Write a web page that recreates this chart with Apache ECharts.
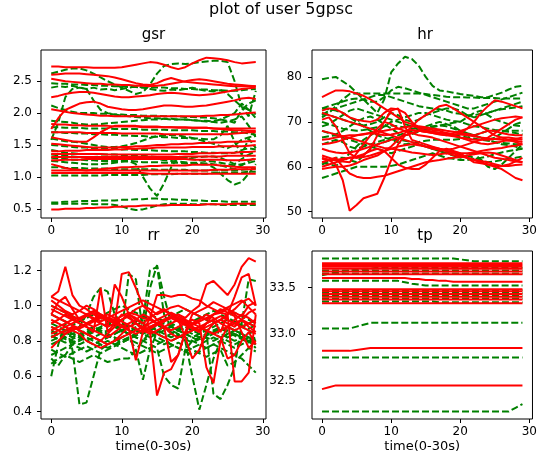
<!DOCTYPE html>
<html><head><meta charset="utf-8">
<script src="https://cdn.jsdelivr.net/npm/echarts@6/dist/echarts.min.js"></script>
<style>html,body{margin:0;padding:0;background:#fff}#c{width:540px;height:469px}</style>
</head><body><div id="c"></div>
<script>
const timeSteps = [0,1,2,3,4,5,6,7,8,9,10,11,12,13,14,15,16,17,18,19,20,21,22,23,24,25,26,27,28,29];
const xTicks = [0,10,20,30];
const gsrTicks = [0.5,1.0,1.5,2.0,2.5];
const hrTicks = [50,60,70,80];
const rrTicks = [0.4,0.6,0.8,1.0,1.2];
const tpTicks = [32.5,33.0,33.5];

const gsrGreen = [
[2.62,2.65,2.68,2.70,2.70,2.67,2.62,2.56,2.50,2.45, 2.40,2.35,2.30,2.33,2.45,2.62,2.74,2.77,2.78,2.77, 2.78,2.80,2.81,2.82,2.82,2.80,2.50,2.10,1.95,2.35],
[2.47,2.46,2.46,2.45,2.45,2.44,2.44,2.43,2.43,2.42, 2.42,2.41,2.41,2.40,2.40,2.40,2.40,2.39,2.39,2.38, 2.38,2.37,2.37,2.36,2.36,2.35,2.35,2.36,2.37,2.38],
[2.40,2.42,2.41,2.43,2.40,2.38,2.40,2.37,2.38,2.36, 2.38,2.40,2.42,2.40,2.38,2.36,2.35,2.37,2.36,2.38, 2.40,2.37,2.35,2.34,2.36,2.30,2.20,2.10,2.05,1.92],
[1.58,1.85,2.25,2.38,2.40,2.38,2.20,2.05,2.00,1.98, 1.96,1.95,1.94,1.93,1.92,1.92,1.91,1.90,1.90,1.90, 1.89,1.88,1.88,1.87,1.90,1.95,2.00,2.15,2.05,1.98],
[2.12,2.08,2.05,2.02,2.00,2.00,2.00,1.99,1.99,1.98, 1.98,1.97,1.97,1.96,1.96,1.96,1.95,1.95,1.95,1.94, 1.94,1.93,1.93,1.92,1.90,1.88,1.85,2.05,2.15,2.20],
[1.88,1.87,1.86,1.85,1.83,1.82,1.82,1.83,1.84,1.85, 1.86,1.87,1.88,1.89,1.90,1.90,1.91,1.91,1.90,1.90, 1.89,1.88,1.87,1.86,1.85,1.87,1.90,1.95,1.80,1.62],
[1.78,1.78,1.77,1.77,1.77,1.76,1.76,1.76,1.76,1.75, 1.75,1.75,1.75,1.74,1.74,1.74,1.74,1.73,1.73,1.73, 1.73,1.72,1.72,1.72,1.71,1.71,1.70,1.70,1.68,1.66],
[1.60,1.58,1.56,1.55,1.54,1.52,1.50,1.48,1.47,1.47, 1.48,1.50,1.53,1.57,1.61,1.64,1.65,1.66,1.65,1.63, 1.61,1.58,1.55,1.52,1.48,1.45,1.50,1.58,1.62,1.65],
[1.50,1.49,1.48,1.47,1.46,1.46,1.45,1.45,1.44,1.44, 1.43,1.43,1.42,1.42,1.42,1.41,1.41,1.40,1.40,1.40, 1.39,1.39,1.38,1.38,1.37,1.37,1.38,1.42,1.45,1.43],
[1.42,1.40,1.38,1.37,1.36,1.36,1.36,1.35,1.35,1.35, 1.34,1.34,1.34,1.33,1.32,1.31,1.30,1.30,1.30,1.30, 1.31,1.31,1.32,1.32,1.30,1.25,1.20,1.28,1.35,1.40],
[1.35,1.34,1.33,1.32,1.31,1.30,1.30,1.29,1.28,1.27, 1.26,1.25,1.20,1.00,0.82,0.70,0.90,1.15,1.32,1.30, 1.28,1.26,1.25,1.24,1.22,1.20,1.18,1.20,1.22,1.25],
[1.25,1.24,1.23,1.22,1.21,1.20,1.20,1.20,1.21,1.22, 1.24,1.26,1.28,1.30,1.30,1.28,1.26,1.25,1.24,1.23, 1.22,1.22,1.21,1.20,1.18,1.15,1.12,1.18,1.25,1.30],
[1.30,1.29,1.28,1.27,1.27,1.26,1.26,1.25,1.25,1.25, 1.24,1.24,1.24,1.23,1.23,1.23,1.22,1.22,1.22,1.21, 1.21,1.20,1.20,1.15,1.05,0.95,0.88,0.92,1.05,1.20],
[1.15,1.15,1.14,1.14,1.14,1.13,1.13,1.13,1.13,1.12, 1.12,1.12,1.12,1.12,1.12,1.11,1.11,1.11,1.11,1.11, 1.10,1.10,1.10,1.10,1.10,1.10,1.10,1.11,1.12,1.13],
[1.02,1.02,1.02,1.02,1.02,1.02,1.02,1.02,1.03,1.03, 1.03,1.03,1.03,1.03,1.04,1.04,1.04,1.04,1.05,1.05, 1.05,1.05,1.05,1.06,1.06,1.06,1.07,1.07,1.08,1.08],
[0.60,0.60,0.61,0.61,0.62,0.62,0.62,0.63,0.63,0.63, 0.64,0.64,0.65,0.65,0.66,0.66,0.65,0.65,0.64,0.64, 0.63,0.63,0.62,0.62,0.62,0.61,0.61,0.61,0.61,0.61],
[0.58,0.58,0.58,0.58,0.58,0.58,0.57,0.57,0.57,0.56, 0.54,0.50,0.48,0.49,0.52,0.55,0.57,0.58,0.58,0.58, 0.57,0.57,0.57,0.57,0.56,0.56,0.56,0.56,0.56,0.56],
[1.70,1.70,1.69,1.69,1.68,1.68,1.67,1.67,1.66,1.66, 1.65,1.65,1.64,1.64,1.63,1.63,1.62,1.62,1.61,1.61, 1.60,1.60,1.59,1.59,1.65,1.80,1.55,1.35,1.60,1.45]
];
const gsrRed = [
[2.73,2.73,2.72,2.72,2.72,2.72,2.71,2.71,2.71,2.71, 2.72,2.74,2.76,2.78,2.80,2.79,2.76,2.72,2.69,2.72, 2.78,2.83,2.87,2.86,2.85,2.83,2.80,2.78,2.79,2.80],
[2.60,2.61,2.62,2.62,2.62,2.61,2.60,2.59,2.58,2.56, 2.53,2.50,2.47,2.45,2.44,2.47,2.52,2.55,2.52,2.49, 2.48,2.47,2.46,2.45,2.44,2.43,2.42,2.42,2.42,2.42],
[2.54,2.52,2.50,2.49,2.48,2.47,2.46,2.46,2.45,2.45, 2.44,2.44,2.43,2.43,2.42,2.43,2.44,2.46,2.48,2.50, 2.52,2.53,2.52,2.50,2.48,2.46,2.45,2.44,2.43,2.42],
[2.25,2.27,2.30,2.32,2.33,2.33,2.32,2.30,2.28,2.26, 2.25,2.25,2.26,2.27,2.28,2.30,2.31,2.32,2.31,2.30, 2.29,2.28,2.29,2.30,2.32,2.34,2.36,2.38,2.39,2.40],
[2.06,2.04,2.02,2.00,1.99,1.98,1.97,1.96,1.96,1.95, 1.95,1.95,1.95,1.95,1.95,1.95,1.95,1.95,1.95,1.95, 1.95,1.95,1.96,1.96,1.97,1.97,1.98,1.99,2.00,2.01],
[1.75,1.92,2.05,2.10,2.15,2.17,2.18,2.15,2.10,2.08, 2.06,2.05,2.05,2.06,2.08,2.10,2.12,2.12,2.11,2.10, 2.10,2.11,2.12,2.14,2.16,2.18,2.20,2.23,2.24,2.22],
[1.83,1.82,1.82,1.81,1.81,1.80,1.80,1.80,1.80,1.79, 1.79,1.79,1.79,1.78,1.78,1.78,1.78,1.78,1.77,1.77, 1.77,1.77,1.77,1.76,1.76,1.76,1.76,1.76,1.76,1.76],
[1.62,1.60,1.58,1.56,1.55,1.55,1.62,1.70,1.76,1.80, 1.80,1.80,1.80,1.79,1.79,1.79,1.78,1.78,1.78,1.78, 1.77,1.77,1.77,1.76,1.75,1.74,1.73,1.73,1.72,1.72],
[1.70,1.70,1.70,1.70,1.70,1.69,1.69,1.69,1.69,1.69, 1.68,1.68,1.68,1.68,1.68,1.68,1.67,1.67,1.67,1.67, 1.67,1.67,1.67,1.67,1.67,1.67,1.68,1.69,1.70,1.70],
[1.52,1.51,1.50,1.49,1.48,1.47,1.46,1.46,1.46,1.46, 1.47,1.47,1.48,1.48,1.49,1.50,1.50,1.51,1.51,1.52, 1.52,1.53,1.53,1.54,1.54,1.55,1.55,1.55,1.56,1.56],
[1.36,1.36,1.36,1.36,1.36,1.36,1.36,1.36,1.35,1.35, 1.35,1.35,1.35,1.35,1.35,1.35,1.35,1.35,1.36,1.36, 1.36,1.37,1.37,1.37,1.38,1.38,1.38,1.39,1.39,1.40],
[1.31,1.31,1.31,1.31,1.31,1.31,1.31,1.31,1.31,1.31, 1.31,1.31,1.31,1.31,1.31,1.31,1.31,1.31,1.31,1.32, 1.32,1.32,1.32,1.32,1.32,1.33,1.33,1.33,1.33,1.33],
[1.26,1.26,1.27,1.27,1.27,1.28,1.28,1.28,1.28,1.28, 1.28,1.28,1.28,1.28,1.28,1.28,1.28,1.28,1.28,1.28, 1.27,1.27,1.27,1.27,1.27,1.26,1.26,1.26,1.27,1.28],
[1.20,1.17,1.14,1.12,1.11,1.10,1.11,1.12,1.13,1.14, 1.15,1.15,1.16,1.16,1.17,1.17,1.18,1.18,1.18,1.18, 1.19,1.19,1.19,1.19,1.18,1.17,1.16,1.15,1.15,1.15],
[1.10,1.10,1.10,1.10,1.10,1.10,1.10,1.10,1.10,1.10, 1.10,1.10,1.10,1.10,1.10,1.10,1.10,1.10,1.10,1.10, 1.10,1.10,1.10,1.11,1.11,1.11,1.12,1.12,1.12,1.12],
[1.06,1.06,1.06,1.06,1.06,1.06,1.06,1.06,1.06,1.06, 1.06,1.06,1.06,1.06,1.05,1.05,1.05,1.05,1.05,1.05, 1.05,1.05,1.05,1.05,1.05,1.05,1.05,1.05,1.05,1.05],
[0.49,0.49,0.50,0.50,0.50,0.51,0.51,0.52,0.52,0.53, 0.53,0.54,0.54,0.55,0.55,0.55,0.55,0.56,0.56,0.56, 0.56,0.56,0.57,0.57,0.57,0.57,0.58,0.58,0.58,0.58],
[1.40,1.40,1.41,1.41,1.41,1.42,1.42,1.42,1.42,1.43, 1.43,1.44,1.44,1.45,1.45,1.46,1.46,1.46,1.46,1.46, 1.47,1.47,1.47,1.47,1.48,1.48,1.48,1.48,1.49,1.50]
];

const hrGreen = [
[79.5,79.8,80.0,79.0,78.0,76.5,75.0,73.5,72.0,75.0, 81.0,83.0,84.5,84.0,82.5,80.0,78.0,77.0,76.8,76.5, 76.2,76.0,75.8,75.5,75.5,76.0,76.5,77.2,77.8,78.0],
[71.0,72.0,73.5,75.0,76.2,76.3,76.3,76.3,76.3,76.3, 76.3,76.3,76.3,76.3,76.3,76.2,76.0,75.8,75.6,75.5, 75.5,75.4,75.4,75.3,75.3,75.3,75.2,75.2,75.2,75.2],
[73.0,73.5,74.0,74.5,75.0,75.2,75.0,74.5,74.5,75.5, 77.0,77.8,77.5,77.0,76.5,76.0,75.5,75.0,74.5,74.0, 73.5,73.0,73.0,73.5,74.0,74.5,75.0,75.5,76.0,76.5],
[72.0,71.5,71.0,70.5,70.0,69.5,69.2,69.5,70.0,71.0, 72.0,71.5,70.5,70.0,70.5,71.5,72.0,72.5,73.0,73.0, 72.5,71.5,71.0,71.5,72.0,72.5,72.8,73.0,73.2,73.5],
[70.0,69.5,69.0,68.5,68.2,68.0,68.2,68.5,68.8,69.0, 69.2,69.0,68.8,68.5,68.5,68.8,69.0,69.2,69.5,69.8, 70.0,71.0,72.0,72.5,71.5,70.5,70.0,69.5,69.2,69.0],
[68.0,67.5,67.2,68.0,69.0,70.0,70.8,71.2,70.5,69.5, 68.5,67.5,67.0,67.3,67.8,68.3,68.8,69.2,69.0,68.5, 68.0,67.5,67.0,66.5,66.0,66.5,67.5,68.5,69.5,70.0],
[61.0,60.5,60.2,61.5,63.0,64.5,66.0,67.0,68.0,69.0, 70.0,70.5,71.0,71.5,72.0,72.0,71.5,71.0,70.5,70.2, 70.0,69.5,69.0,68.8,68.5,68.2,68.0,67.8,67.5,67.2],
[57.5,58.0,58.5,59.0,59.5,60.0,60.0,60.0,60.0,60.0, 60.2,60.5,61.0,61.5,62.0,62.5,63.0,62.5,62.0,61.8, 61.5,61.5,61.8,62.0,62.3,62.8,63.2,63.5,63.8,64.0],
[60.5,61.3,62.0,62.0,61.5,61.0,62.5,64.0,65.0,65.5, 66.0,66.0,65.8,65.5,65.0,64.5,64.0,63.5,63.0,62.5, 62.0,62.5,63.0,61.5,60.0,59.5,60.5,62.0,63.5,65.0],
[65.0,65.5,66.0,65.5,64.5,64.0,64.5,65.0,65.5,66.0, 66.5,67.0,67.5,68.0,68.5,69.0,69.5,70.0,69.5,69.0, 68.0,67.5,67.0,66.5,66.0,65.5,65.0,64.8,64.5,64.0],
[73.0,72.8,72.5,72.0,71.0,70.0,69.0,68.0,67.0,66.5, 66.0,65.5,65.0,65.2,65.5,65.8,66.0,66.0,66.0,66.0, 66.2,66.5,67.0,67.5,68.0,68.0,68.0,68.0,68.0,68.0],
[66.5,66.8,67.0,66.5,66.0,65.5,65.0,64.5,64.0,63.5, 63.0,63.5,64.0,64.5,65.0,64.5,64.0,63.5,63.2,63.0, 62.8,62.5,62.0,61.5,61.0,61.2,61.5,61.8,62.0,62.3],
[69.0,69.5,70.5,71.5,72.5,73.0,72.5,72.0,71.5,71.0, 70.5,70.0,69.5,69.0,68.5,68.0,67.8,67.5,67.3,67.0, 66.8,66.5,66.3,66.0,65.8,65.5,65.3,65.2,65.0,65.0],
[71.5,72.5,73.0,73.5,74.0,74.5,75.0,75.5,76.0,76.0, 75.5,75.0,74.5,74.0,73.5,73.2,73.0,72.8,72.5,72.0, 71.8,71.5,71.5,71.8,72.0,72.5,73.0,73.5,74.0,74.5]
];
const hrRed = [
[75.5,76.3,77.0,77.0,76.8,76.3,75.8,75.0,74.0,73.0, 72.0,71.0,70.0,69.5,69.0,68.8,68.5,68.3,68.0,67.8, 67.5,67.3,67.0,67.5,68.0,68.0,67.5,67.2,67.0,67.0],
[72.5,73.0,72.8,72.0,71.0,70.5,70.2,70.0,70.5,72.0, 73.0,72.8,72.0,70.0,68.5,68.0,67.8,67.5,67.3,67.0, 67.5,68.5,70.0,72.0,73.5,74.8,74.5,74.0,73.5,73.0],
[70.5,71.0,69.0,66.0,63.0,62.0,62.5,64.0,67.0,70.0, 72.5,73.0,69.0,66.0,65.5,65.0,64.5,64.0,63.5,63.0, 62.5,62.0,61.5,61.0,60.5,60.0,59.5,58.5,57.5,57.0],
[62.0,61.5,60.5,57.0,50.2,51.5,53.0,53.5,54.0,57.5, 61.5,65.0,67.0,67.5,68.0,67.8,67.5,67.3,67.0,66.8, 66.5,66.3,66.0,66.0,66.0,66.2,66.5,66.5,66.3,66.0],
[61.0,61.5,62.0,60.0,58.5,57.8,57.5,57.5,57.8,58.0, 58.5,59.0,59.5,60.0,60.5,61.0,61.3,61.5,61.8,62.0, 62.2,62.5,62.8,63.0,63.2,63.0,62.5,62.0,61.5,61.0],
[59.5,59.8,60.0,60.0,60.3,60.8,61.5,62.0,62.5,63.5, 64.5,66.0,67.5,69.0,70.5,71.5,72.5,73.5,73.8,73.0, 72.0,71.0,70.0,69.0,68.0,67.0,66.5,66.0,65.5,65.0],
[66.0,66.2,66.5,66.8,67.0,67.0,67.2,67.5,67.8,68.0, 68.3,68.5,68.8,69.0,68.8,68.5,68.2,68.0,67.5,67.0, 66.5,66.0,65.5,65.2,65.0,65.3,65.6,66.0,66.2,66.5],
[64.0,63.5,63.2,63.0,63.2,63.5,64.0,64.5,65.0,65.5, 66.0,66.5,67.0,67.5,68.0,67.8,67.5,67.2,67.0,67.5, 68.0,68.5,69.0,69.5,70.0,70.5,70.8,71.0,71.2,71.0],
[60.0,60.5,61.0,61.5,62.0,62.3,62.8,63.5,64.0,63.5, 62.0,60.5,59.8,59.5,59.5,60.5,62.0,63.5,64.0,63.5, 63.0,62.0,61.0,60.8,60.5,60.3,60.2,60.2,60.4,60.5],
[62.5,62.0,61.5,61.2,61.0,63.0,65.0,67.0,68.5,70.0, 69.5,68.5,68.0,67.5,67.0,66.8,66.5,66.0,65.5,65.0, 64.5,64.0,63.5,63.0,62.5,62.0,61.8,61.5,61.2,61.0],
[68.0,67.6,67.2,66.8,66.4,66.0,65.5,65.0,64.6,64.2, 64.0,63.8,63.5,63.2,63.0,62.8,62.6,62.8,63.0,62.6, 62.3,62.0,61.6,61.3,61.0,60.6,60.2,60.5,61.2,62.0],
[65.0,65.2,65.5,66.0,66.5,67.0,67.3,67.5,67.3,67.0, 67.2,67.5,68.0,68.2,68.0,67.8,67.7,67.5,67.5,67.3, 67.2,67.0,66.8,66.5,66.3,66.2,66.0,65.8,65.8,65.5],
[72.0,71.5,71.0,70.5,70.0,69.5,69.0,68.5,68.0,67.5, 67.0,66.5,66.0,65.5,65.0,64.5,64.0,63.8,63.5,63.3, 63.0,63.0,63.2,63.5,63.8,64.0,64.2,64.5,64.7,65.0],
[61.8,61.5,61.5,61.8,62.0,62.0,62.2,62.5,63.0,63.5, 64.0,64.5,64.8,65.0,64.8,64.5,64.3,64.0,63.8,64.0, 64.5,65.0,65.5,66.0,66.5,67.5,68.5,69.5,70.5,71.0]
];

const rrGreen = [
[0.60,0.78,0.90,0.75,0.44,0.45,0.60,0.75,0.78,0.80, 0.82,0.84,0.86,0.84,0.82,0.80,0.78,0.80,0.82,0.84, 0.86,0.88,0.86,0.84,0.82,0.80,0.78,0.80,0.82,0.80],
[0.80,0.82,0.84,0.86,0.88,0.95,1.05,1.10,1.08,0.95, 0.90,0.88,0.86,0.84,0.86,0.88,0.90,0.88,0.86,0.84, 0.82,0.84,0.86,0.88,0.90,0.92,0.90,0.88,0.86,0.84],
[0.85,0.83,0.81,0.79,0.81,0.83,0.85,0.87,0.89,0.91, 0.85,1.18,1.15,0.85,1.10,1.23,1.05,0.90,0.88,0.86, 0.84,0.82,0.84,0.86,0.88,0.86,0.84,0.82,0.80,0.82],
[0.78,0.80,0.82,0.80,0.78,0.80,0.82,0.84,0.86,0.88, 0.86,0.84,0.88,0.92,1.20,1.22,0.95,0.88,0.86,0.84, 0.82,0.80,0.82,0.84,0.86,0.88,0.86,0.84,0.82,0.80],
[0.72,0.74,0.76,0.78,0.80,0.82,0.80,0.78,0.76,0.78, 0.80,0.82,0.75,0.58,0.75,0.85,0.88,0.86,0.84,0.82, 0.80,0.78,0.76,0.78,0.80,0.82,0.84,0.82,0.80,0.78],
[0.88,0.86,0.84,0.82,0.84,0.86,0.88,0.86,0.84,0.82, 0.80,0.82,0.84,0.86,0.88,0.86,0.84,0.82,0.84,0.80, 0.60,0.41,0.55,0.70,0.80,0.84,0.86,0.84,0.82,0.80],
[0.82,0.84,0.86,0.84,0.82,0.80,0.78,0.80,0.82,0.84, 0.86,0.84,0.82,0.80,0.82,0.84,0.86,0.88,0.86,0.84, 0.86,0.88,0.85,0.50,0.47,0.55,0.65,0.90,1.15,1.14],
[0.67,0.70,0.72,0.70,0.68,0.70,0.72,0.70,0.68,0.69, 0.70,0.70,0.75,0.80,0.85,0.82,0.80,0.78,0.76,0.74, 0.72,0.74,0.76,0.78,0.76,0.74,0.72,0.70,0.66,0.62],
[0.90,0.88,0.86,0.84,0.82,0.84,0.86,0.88,0.90,0.88, 0.86,0.84,0.82,0.80,0.78,0.76,0.60,0.55,0.53,0.75, 0.80,0.82,0.84,0.86,0.84,0.82,0.80,0.82,0.84,0.86],
[1.00,0.98,0.96,0.94,0.92,0.90,0.92,0.94,0.96,0.98, 1.00,0.98,0.96,0.94,0.92,0.90,0.92,0.94,0.96,0.98, 0.96,0.94,0.92,0.90,0.92,0.94,0.96,0.94,0.92,0.90],
[0.75,0.73,0.71,0.73,0.75,0.77,0.75,0.73,0.75,0.77, 0.79,0.81,0.79,0.77,0.75,0.73,0.75,0.77,0.79,0.77, 0.75,0.73,0.71,0.73,0.75,0.66,0.68,0.72,0.76,0.74],
[0.83,0.81,0.79,0.81,0.83,0.85,0.87,0.85,0.83,0.81, 0.79,0.81,0.83,0.85,0.87,0.89,0.87,0.85,0.83,0.81, 0.79,0.81,0.83,0.85,0.87,0.85,0.83,0.81,0.79,0.81],
[0.95,0.93,0.91,0.89,0.91,0.93,0.95,0.93,0.91,0.89, 0.87,0.89,0.91,0.93,0.95,0.93,0.91,0.89,0.87,0.89, 0.91,0.93,0.95,0.97,0.95,0.93,0.91,0.89,0.87,0.89],
[0.70,0.66,0.72,0.78,0.76,0.74,0.76,0.78,0.80,0.78, 0.76,0.74,0.72,0.74,0.76,0.78,0.80,0.78,0.76,0.74, 0.76,0.78,0.80,0.82,0.80,0.78,0.76,0.78,0.80,0.76],
[0.86,0.84,0.82,0.84,0.86,0.84,0.82,0.80,0.82,0.84, 0.86,0.88,0.90,0.88,0.86,0.84,0.82,0.84,0.86,0.88, 0.86,0.84,0.82,0.80,0.82,0.84,0.86,0.88,0.90,0.88]
];
const rrRed = [
[1.05,1.08,1.22,1.06,1.00,0.98,0.95,0.93,0.92,0.90, 0.92,0.95,0.93,0.90,0.88,0.90,0.92,0.93,0.95,0.93, 0.97,1.00,1.12,1.14,1.10,1.06,1.12,1.22,1.27,1.25],
[0.95,1.02,1.05,0.98,0.92,0.90,0.88,0.90,0.88,1.12, 1.05,0.95,0.92,0.90,0.93,0.96,0.98,0.95,0.92,0.90, 0.88,0.86,0.90,0.92,0.85,0.95,1.05,1.16,1.18,1.00],
[0.90,0.92,0.95,0.93,0.90,0.88,0.85,1.10,0.85,0.90, 1.18,1.19,1.10,1.00,0.98,0.95,0.97,0.99,1.00,0.98, 0.96,0.94,0.92,0.95,0.96,0.98,0.95,0.92,0.90,0.88],
[0.98,0.96,0.94,0.92,0.93,0.95,0.92,0.90,0.88,0.90, 0.95,0.93,0.90,0.87,0.85,0.49,0.62,0.64,0.72,0.85, 0.90,0.92,0.95,0.93,0.90,0.88,0.86,0.88,0.90,0.92],
[0.86,0.88,0.90,0.92,0.90,0.88,0.86,0.84,0.82,0.85, 0.88,0.90,0.92,0.95,0.93,0.90,0.88,0.86,0.88,0.90, 0.92,0.90,0.65,0.56,0.80,0.88,0.92,0.95,0.93,0.90],
[0.88,0.86,0.84,0.86,0.88,0.90,0.92,0.94,0.92,0.90, 0.88,0.86,0.84,0.86,0.88,0.90,0.92,0.94,0.92,0.90, 0.88,0.86,0.88,0.90,0.92,0.95,0.57,0.57,0.62,0.95],
[1.00,0.98,0.96,0.94,0.92,0.95,0.97,0.95,0.93,0.91, 0.89,0.87,0.69,0.85,0.93,1.06,1.06,1.05,1.06,1.06, 1.04,1.03,1.00,0.98,0.96,0.95,0.98,1.02,1.04,1.00],
[0.76,0.80,0.84,0.88,0.86,0.84,0.82,0.80,0.78,0.80, 0.84,0.88,0.90,0.88,0.86,0.84,0.82,0.80,0.82,0.84, 0.86,0.88,0.86,0.84,0.82,0.70,0.72,0.80,0.85,0.78],
[1.03,1.00,0.97,0.95,0.97,1.00,0.98,0.95,0.93,0.92, 0.94,0.96,0.95,0.93,0.92,0.90,0.88,0.68,0.72,0.85, 0.95,0.97,0.99,1.02,1.00,0.98,0.96,0.94,1.00,1.02],
[0.92,0.90,0.88,0.86,0.84,0.80,0.78,0.76,0.78,0.80, 0.82,0.84,0.86,0.88,0.90,0.92,0.94,0.96,0.94,0.92, 0.90,0.88,0.86,0.84,0.86,0.88,0.90,0.92,0.88,0.85],
[0.84,0.86,0.88,0.90,0.92,0.94,0.96,0.94,0.92,0.90, 0.92,0.94,0.90,0.86,0.84,0.86,0.88,0.90,0.92,0.82, 0.70,0.75,0.85,0.90,0.92,0.90,0.88,0.92,0.96,0.98],
[0.95,0.93,0.91,0.89,0.87,0.89,0.91,0.93,0.95,0.93, 0.91,0.89,0.87,0.85,0.87,0.89,0.91,0.93,0.91,0.89, 0.87,0.85,0.90,0.95,0.98,0.96,0.94,0.85,0.76,0.80],
[0.82,0.84,0.86,0.88,0.86,0.84,0.82,0.80,0.84,0.88, 0.92,0.95,0.98,1.00,0.96,0.92,0.88,0.84,0.82,0.84, 0.86,0.88,0.90,0.92,0.94,0.92,0.90,0.88,0.86,0.84],
[1.05,1.03,1.01,0.99,0.97,0.95,0.93,0.91,0.93,0.95, 0.97,0.99,1.01,1.03,1.01,0.99,0.97,0.95,0.93,0.91, 0.89,0.91,0.93,0.95,0.97,0.99,1.01,1.03,0.99,0.95]
];

const tpGreen = [
[33.81,33.81,33.81,33.81,33.81,33.81,33.81,33.81,33.81,33.81, 33.81,33.81,33.81,33.81,33.81,33.81,33.81,33.81,33.81,33.81, 33.80,33.79,33.78,33.78,33.78,33.78,33.78,33.78,33.78,33.78],
[33.63,33.645,33.66,33.67,33.68,33.69,33.70,33.70,33.71,33.71, 33.71,33.71,33.71,33.71,33.71,33.71,33.71,33.71,33.71,33.71, 33.71,33.71,33.71,33.71,33.71,33.71,33.71,33.71,33.71,33.71],
[33.57,33.57,33.57,33.57,33.57,33.57,33.57,33.57,33.57,33.57, 33.57,33.57,33.555,33.54,33.53,33.52,33.52,33.52,33.52,33.52, 33.52,33.52,33.52,33.52,33.52,33.52,33.52,33.52,33.52,33.52],
[33.68,33.68,33.68,33.68,33.68,33.68,33.68,33.68,33.68,33.68, 33.68,33.68,33.68,33.68,33.68,33.68,33.68,33.68,33.68,33.68, 33.68,33.68,33.68,33.68,33.68,33.68,33.68,33.68,33.68,33.68],
[33.65,33.65,33.65,33.65,33.65,33.65,33.65,33.65,33.65,33.65, 33.65,33.65,33.65,33.65,33.65,33.65,33.65,33.65,33.65,33.65, 33.65,33.65,33.65,33.65,33.65,33.65,33.65,33.65,33.65,33.65],
[33.47,33.47,33.47,33.47,33.47,33.47,33.47,33.47,33.47,33.47, 33.47,33.47,33.47,33.47,33.47,33.47,33.47,33.47,33.47,33.47, 33.47,33.47,33.47,33.47,33.47,33.47,33.47,33.47,33.47,33.47],
[33.44,33.44,33.44,33.44,33.44,33.44,33.44,33.44,33.44,33.44, 33.44,33.44,33.44,33.44,33.44,33.44,33.44,33.44,33.44,33.44, 33.44,33.44,33.44,33.44,33.44,33.44,33.44,33.44,33.44,33.44],
[33.41,33.41,33.41,33.41,33.41,33.41,33.41,33.41,33.41,33.41, 33.41,33.41,33.41,33.41,33.41,33.41,33.41,33.41,33.41,33.41, 33.41,33.41,33.41,33.41,33.41,33.41,33.41,33.41,33.41,33.41],
[33.38,33.38,33.38,33.38,33.38,33.38,33.38,33.38,33.38,33.38, 33.38,33.38,33.38,33.38,33.38,33.38,33.38,33.38,33.38,33.38, 33.38,33.38,33.38,33.38,33.38,33.38,33.38,33.38,33.38,33.38],
[33.35,33.35,33.35,33.35,33.35,33.35,33.35,33.35,33.35,33.35, 33.35,33.35,33.35,33.35,33.35,33.35,33.35,33.34,33.34,33.34, 33.34,33.34,33.34,33.34,33.34,33.34,33.34,33.34,33.34,33.34],
[33.06,33.06,33.06,33.06,33.06,33.08,33.10,33.12,33.12,33.12, 33.12,33.12,33.12,33.12,33.12,33.12,33.12,33.12,33.12,33.12, 33.12,33.12,33.12,33.12,33.12,33.12,33.12,33.12,33.12,33.12],
[32.75,32.75,32.75,32.75,32.75,32.75,32.75,32.75,32.75,32.75, 32.75,32.75,32.75,32.75,32.75,32.75,32.75,32.75,32.75,32.75, 32.75,32.75,32.75,32.75,32.75,32.75,32.75,32.75,32.75,32.75],
[32.17,32.17,32.17,32.17,32.17,32.17,32.17,32.17,32.17,32.17, 32.17,32.17,32.17,32.17,32.17,32.17,32.17,32.17,32.17,32.17, 32.17,32.17,32.17,32.17,32.17,32.17,32.17,32.17,32.21,32.25]
];
const tpRed = [
[33.76,33.76,33.76,33.76,33.76,33.76,33.76,33.76,33.76,33.76, 33.76,33.76,33.76,33.76,33.76,33.76,33.76,33.76,33.76,33.76, 33.76,33.76,33.76,33.76,33.76,33.76,33.76,33.76,33.76,33.76],
[33.74,33.74,33.74,33.74,33.74,33.74,33.74,33.74,33.74,33.74, 33.74,33.74,33.74,33.74,33.74,33.74,33.74,33.74,33.74,33.74, 33.74,33.74,33.74,33.74,33.74,33.74,33.74,33.74,33.74,33.74],
[33.72,33.72,33.72,33.72,33.72,33.72,33.72,33.72,33.72,33.72, 33.72,33.72,33.72,33.72,33.72,33.72,33.72,33.72,33.72,33.72, 33.72,33.72,33.72,33.72,33.72,33.72,33.72,33.72,33.72,33.72],
[33.70,33.70,33.70,33.70,33.70,33.70,33.70,33.70,33.70,33.70, 33.70,33.70,33.70,33.70,33.70,33.70,33.70,33.70,33.70,33.70, 33.70,33.70,33.70,33.70,33.70,33.70,33.70,33.70,33.70,33.70],
[33.67,33.67,33.67,33.67,33.67,33.67,33.67,33.67,33.67,33.67, 33.67,33.67,33.67,33.67,33.67,33.67,33.67,33.67,33.67,33.67, 33.67,33.67,33.67,33.67,33.67,33.67,33.67,33.67,33.67,33.67],
[33.64,33.64,33.64,33.64,33.64,33.64,33.64,33.64,33.64,33.64, 33.64,33.64,33.64,33.64,33.64,33.64,33.64,33.64,33.64,33.64, 33.64,33.64,33.64,33.64,33.64,33.64,33.64,33.64,33.64,33.64],
[33.60,33.60,33.60,33.60,33.60,33.60,33.60,33.60,33.60,33.60, 33.60,33.60,33.60,33.59,33.59,33.58,33.58,33.57,33.57,33.56, 33.56,33.56,33.56,33.56,33.56,33.56,33.56,33.56,33.56,33.56],
[33.48,33.48,33.48,33.48,33.48,33.48,33.48,33.48,33.48,33.48, 33.48,33.48,33.48,33.48,33.48,33.48,33.48,33.48,33.48,33.48, 33.48,33.48,33.48,33.48,33.48,33.48,33.48,33.48,33.48,33.48],
[33.46,33.46,33.46,33.46,33.46,33.46,33.46,33.46,33.46,33.46, 33.46,33.46,33.46,33.46,33.46,33.46,33.46,33.46,33.46,33.46, 33.46,33.46,33.46,33.46,33.46,33.46,33.46,33.46,33.46,33.46],
[33.43,33.43,33.43,33.43,33.43,33.43,33.43,33.43,33.43,33.43, 33.43,33.43,33.43,33.43,33.43,33.43,33.43,33.43,33.43,33.43, 33.43,33.43,33.43,33.43,33.43,33.43,33.43,33.43,33.43,33.43],
[33.40,33.40,33.40,33.40,33.40,33.40,33.40,33.40,33.40,33.40, 33.40,33.40,33.40,33.40,33.40,33.40,33.40,33.40,33.40,33.40, 33.40,33.40,33.40,33.40,33.40,33.40,33.40,33.40,33.40,33.40],
[33.37,33.37,33.37,33.37,33.37,33.37,33.37,33.37,33.37,33.37, 33.37,33.37,33.37,33.37,33.37,33.37,33.37,33.37,33.37,33.37, 33.37,33.37,33.37,33.37,33.37,33.37,33.37,33.37,33.37,33.37],
[33.33,33.33,33.33,33.33,33.33,33.33,33.33,33.33,33.33,33.33, 33.33,33.33,33.33,33.33,33.33,33.33,33.33,33.33,33.33,33.33, 33.33,33.33,33.33,33.33,33.33,33.33,33.33,33.33,33.33,33.33],
[32.82,32.82,32.82,32.82,32.82,32.83,32.84,32.85,32.85,32.85, 32.85,32.85,32.85,32.85,32.85,32.85,32.85,32.85,32.85,32.85, 32.85,32.85,32.85,32.85,32.85,32.85,32.85,32.85,32.85,32.85],
[32.41,32.43,32.45,32.45,32.45,32.45,32.45,32.45,32.45,32.45, 32.45,32.45,32.45,32.45,32.45,32.45,32.45,32.45,32.45,32.45, 32.45,32.45,32.45,32.45,32.45,32.45,32.45,32.45,32.45,32.45]
];

const FONT = 'DejaVu Sans';
const panels = [
  {title:'gsr', red:gsrRed, green:gsrGreen, ticks:gsrTicks, ymin:0.355, ymax:2.99, dec:1, left:41, top:50, lm:9, xname:''},
  {title:'hr', red:hrRed, green:hrGreen, ticks:hrTicks, ymin:48.6, ymax:86.0, dec:0, left:312, top:50, lm:10, xname:''},
  {title:'rr', red:rrRed, green:rrGreen, ticks:rrTicks, ymin:0.357, ymax:1.31, dec:1, left:41, top:251, lm:9, xname:'time(0-30s)'},
  {title:'tp', red:tpRed, green:tpGreen, ticks:tpTicks, ymin:32.09, ymax:33.89, dec:1, left:312, top:251, lm:16, xname:'time(0-30s)'}
];
const W = 225, H = 168;

const grids = [], xAxes = [], yAxes = [], series = [];
const titles = [{text:'plot of user 5gpsc', left:281, top:2, padding:0, textAlign:'center',
  textStyle:{fontFamily:FONT, fontSize:16, fontWeight:'normal', color:'#000'}}];
panels.forEach((p, i) => {
  grids.push({left:p.left, top:p.top, width:(i%2===1? W+1 : W), height:H, show:true, borderColor:'#000', borderWidth:1, backgroundColor:'transparent'});
  titles.push({text:p.title, left:p.left + (i%2===1? (W+1)/2 : W/2), top:p.top - 22, padding:0, textAlign:'center',
    textStyle:{fontFamily:FONT, fontSize:15, fontWeight:'normal', color:'#000'}});
  xAxes.push({type:'value', gridIndex:i, min:-1.45, max:30.45,
    axisLine:{show:false, onZero:false}, splitLine:{show:false},
    axisTick:{show:true, length:4, lineStyle:{color:'#000', width:1}, customValues:xTicks},
    axisLabel:{customValues:xTicks, color:'#000', fontSize:12, fontFamily:FONT, margin:7},
    name:p.xname, nameLocation:'middle', nameGap:21,
    nameTextStyle:{fontFamily:FONT, fontSize:13, color:'#000'}});
  yAxes.push({type:'value', gridIndex:i, min:p.ymin, max:p.ymax,
    axisLine:{show:false, onZero:false}, splitLine:{show:false},
    axisTick:{show:true, length:4, lineStyle:{color:'#000', width:1}, customValues:p.ticks},
    axisLabel:{customValues:p.ticks, color:'#000', fontSize:12, fontFamily:FONT, margin:p.lm,
      formatter:(v)=>Number(v).toFixed(p.dec)}});
  const mk = (arr, color, dashed) => arr.forEach(vals => {
    series.push({type:'line', xAxisIndex:i, yAxisIndex:i, showSymbol:false, symbol:'none',
      silent:true, animation:false,
      data: timeSteps.map((t, k) => [t, vals[k]]).filter(d => d[1] !== undefined),
      lineStyle:{color:color, width:2, type: dashed ? [7,3] : 'solid'}});
  });
  mk(p.green, '#008000', true);
  mk(p.red, '#ff0000', false);
});

const chart = echarts.init(document.getElementById('c'), null, {renderer:'canvas'});
chart.setOption({animation:false, backgroundColor:'#fff', title:titles, grid:grids, xAxis:xAxes, yAxis:yAxes, series:series});
</script></body></html>
